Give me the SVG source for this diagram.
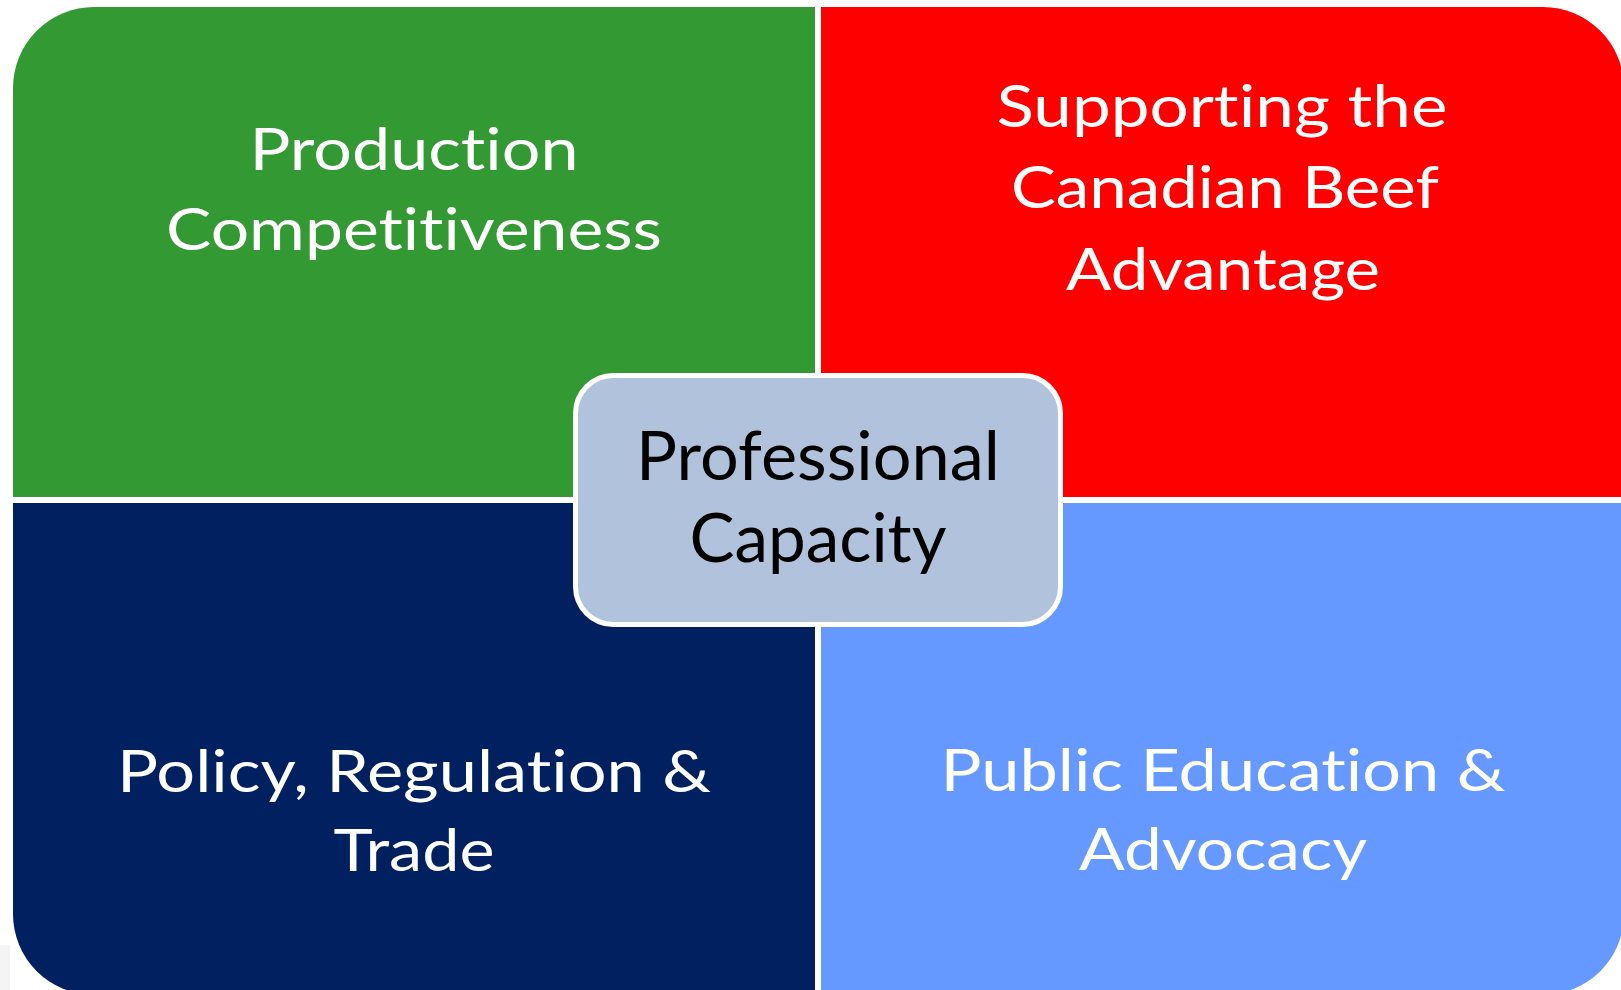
<svg xmlns="http://www.w3.org/2000/svg" width="1621" height="990" viewBox="0 0 1621 990">
<style>
.q{stroke:none}
.t{font-family:Lato,"Open Sans","Liberation Sans",sans-serif;font-size:59px;fill:#FFFFFF;text-anchor:middle;font-variant-ligatures:none;font-feature-settings:"liga" 0,"clig" 0}
.c{font-family:Lato,"Open Sans","Liberation Sans",sans-serif;font-size:67px;fill:#000000;text-anchor:middle;font-variant-ligatures:none;font-feature-settings:"liga" 0,"clig" 0}
</style>
<rect x="0" y="0" width="1621" height="990" fill="#FFFFFF"/>
<rect x="0" y="945" width="10" height="45" fill="#F4F4F4"/>
<g id="connectors"></g>
<g id="production">
<path class="q" fill="#339933" d="M13,88 A81,81 0 0 1 94,7 L815,7 L815,497 L13,497 Z"/>
<text class="t" x="414" y="170" textLength="329" lengthAdjust="spacingAndGlyphs">Production</text>
<text class="t" x="414" y="250" textLength="496" lengthAdjust="spacingAndGlyphs">Competitiveness</text>
</g>
<g id="supporting">
<path class="q" fill="#FF0000" d="M821,7 L1543,7 A81,81 0 0 1 1624,88 L1624,497 L821,497 Z"/>
<text class="t" x="1222" y="127" textLength="451" lengthAdjust="spacingAndGlyphs">Supporting the</text>
<text class="t" x="1225" y="208" textLength="428" lengthAdjust="spacingAndGlyphs">Canadian Beef</text>
<text class="t" x="1223" y="290" textLength="314" lengthAdjust="spacingAndGlyphs">Advantage</text>
</g>
<g id="policy">
<path class="q" fill="#002060" d="M13,503 L815,503 L815,995 L94,995 A81,81 0 0 1 13,914 Z"/>
<text class="t" x="414" y="792" textLength="594" lengthAdjust="spacingAndGlyphs">Policy, Regulation &amp;</text>
<text class="t" x="414" y="871" textLength="161" lengthAdjust="spacingAndGlyphs">Trade</text>
</g>
<g id="public">
<path class="q" fill="#6699FF" d="M821,503 L1624,503 L1624,914 A81,81 0 0 1 1543,995 L821,995 Z"/>
<text class="t" x="1223" y="791" textLength="565" lengthAdjust="spacingAndGlyphs">Public Education &amp;</text>
<text class="t" x="1223" y="870" textLength="288" lengthAdjust="spacingAndGlyphs">Advocacy</text>
</g>
<g id="professional">
<rect x="575.5" y="375.5" width="485" height="249" rx="38" ry="38" fill="#B0C2DC" stroke="#FFFFFF" stroke-width="5"/>
<text class="c" x="818" y="480" textLength="364" lengthAdjust="spacingAndGlyphs">Professional</text>
<text class="c" x="818" y="562" textLength="257" lengthAdjust="spacingAndGlyphs">Capacity</text>
</g>
</svg>
